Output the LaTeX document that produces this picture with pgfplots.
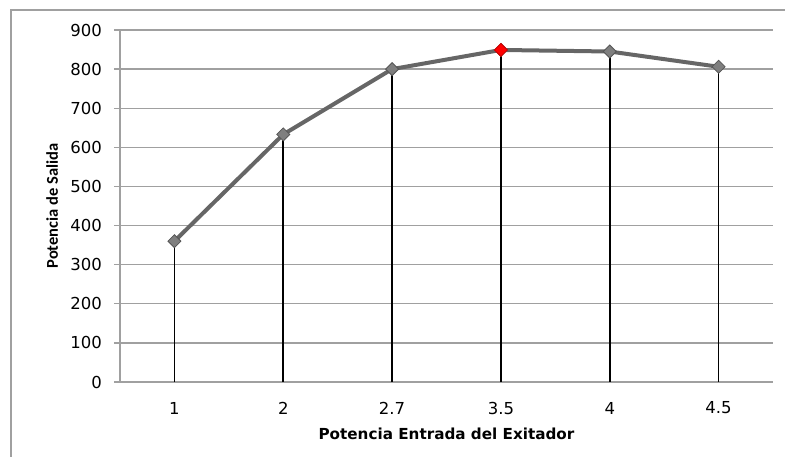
\documentclass[border=0pt]{standalone}
\usepackage{pgfplots}
\pgfplotsset{compat=1.18}
\usepackage{fontspec}
\setmainfont{DejaVu Sans}
\newfontfamily\calibri{Carlito}
\definecolor{gridgray}{HTML}{A0A0A0}
\definecolor{linegray}{HTML}{666666}
\definecolor{markfill}{HTML}{7F7F7F}
\definecolor{markdraw}{HTML}{555555}
\begin{document}
\begin{tikzpicture}[x=1pt,y=1pt]
\path[use as bounding box] (0,0) rectangle (785,457);
\draw[gridgray, line width=1.3pt] (11,0) -- (11,447) -- (785,447);
\begin{axis}[
  at={(120pt,75pt)}, anchor=south west,
  scale only axis, width=653pt, height=352pt,
  xmin=0.5, xmax=6.5, ymin=0, ymax=900,
  ytick={0,100,...,900},
  xtick={1,2,3,4,5,6},
  xticklabels={1,2,2.7,3.5,4,4.5},
  axis x line=bottom, axis y line=left,
  axis line style={-, gridgray, line width=1.4pt},
  ymajorgrids, grid style={gridgray, line width=1.4pt},
  tick align=outside, major tick length=6pt,
  ytick style={gridgray, line width=1.4pt},
  xtick style={draw=none},
  /pgf/number format/assume math mode=true,
  tick label style={font=\fontsize{16.5}{19}\selectfont},
  yticklabel style={anchor=east, inner sep=0pt, xshift=-12pt},
  xticklabel style={anchor=center, inner sep=0pt, yshift=-20pt},
  xlabel={\bfseries\fontsize{15.2}{18}\selectfont Potencia Entrada del Exitador},
  ylabel={\calibri\bfseries\fontsize{16.5}{20}\selectfont Potencia de Salida},
  every axis x label/.style={at={(axis description cs:0.5,-0.1477)}, anchor=center},
  every axis y label/.style={at={(axis description cs:-0.104,0.5)}, anchor=center, rotate=90},
  clip=false,
]
\addplot[ycomb, black, line width=1.7pt, no marks] coordinates {(1,360) (2,633) (3,800) (4,849) (5,845) (6,806)};
\addplot[linegray, line width=4pt, mark=square*, mark size=4.6pt,
  mark options={rotate=45, fill=markfill, draw=markdraw, line width=0.8pt}]
  coordinates {(1,360) (2,633) (3,800) (4,849) (5,845) (6,806)};
\addplot[only marks, mark=square*, mark size=4.6pt,
  mark options={rotate=45, fill=red, draw=red!80!black, line width=0.8pt}]
  coordinates {(4,849)};
\end{axis}
\end{tikzpicture}
\end{document}
